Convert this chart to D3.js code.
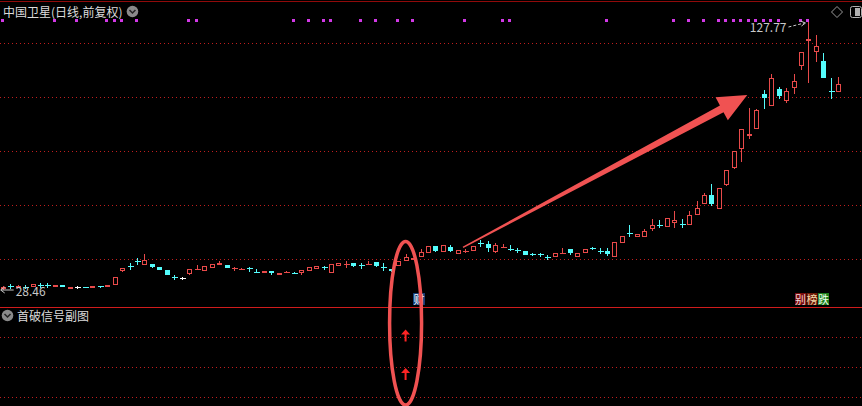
<!DOCTYPE html>
<html>
<head>
<meta charset="utf-8">
<script src="https://cdn.jsdelivr.net/npm/d3@7"></script>
<style>
  html, body { margin: 0; padding: 0; background: #000; }
  svg { display: block; }
  text { font-family: "Noto Sans CJK SC", "Liberation Sans", sans-serif; }
</style>
</head>
<body>
<svg id="chart" width="862" height="406"></svg>
<script>
// daily candles, oldest first
const open = [28.89,30.02,29.44,29.76,29.63,30.39,30.39,29.52,30.37,29.00,29.63,29.65,29.37,29.91,29.52,30.26,35.67,37.43,39.39,37.78,
  38.15,37.15,35.93,33.24,33.07,34.33,36.17,35.67,36.56,37.67,37.78,36.54,36.39,36.58,35.21,34.93,35.56,34.19,35.17,34.83,
  34.70,35.67,36.41,36.95,34.93,37.52,38.13,38.41,37.69,38.02,38.78,37.17,36.30,37.30,39.37,39.89,40.85,42.11,44.81,42.70,
  44.33,41.74,43.05,43.07,45.83,45.44,42.70,44.31,43.83,43.35,42.96,41.87,41.76,40.65,40.63,42.31,43.59,40.85,42.11,43.98,
  43.09,43.07,40.85,46.04,49.54,48.15,48.04,51.11,52.50,51.96,53.44,52.87,52.70,56.41,60.37,63.70,58.41,67.41,73.59,80.74,
  85.56,88.04,101.00,96.67,103.07,98.63,103.44,111.59,120.85,116.78,113.33,102.35,101.96];
const high = [30.00,30.56,30.19,30.37,30.85,31.00,31.00,30.37,30.37,29.52,29.89,29.74,29.89,29.95,30.37,33.44,36.56,38.41,40.26,41.85,
  38.15,37.15,35.93,34.07,33.44,36.19,37.78,37.41,38.04,39.15,37.78,37.04,36.67,37.15,36.30,35.56,35.56,34.81,35.56,35.07,
  35.81,36.93,37.30,37.52,38.15,38.41,39.26,38.41,38.63,39.26,38.78,38.63,36.30,39.26,41.74,40.37,43.70,44.81,44.81,45.19,
  45.07,43.33,43.59,44.81,47.04,46.78,45.81,45.56,45.19,43.96,42.96,42.11,42.33,41.48,42.11,43.96,43.59,42.11,43.59,44.56,
  43.96,44.07,46.30,48.52,52.59,49.15,51.11,54.93,54.44,55.07,57.89,54.81,57.89,61.48,64.56,67.78,66.19,72.85,80.00,88.04,
  95.81,95.56,102.59,108.52,103.81,103.22,108.52,116.56,127.77,122.96,116.19,106.93,107.52];
const low = [28.46,29.26,29.26,29.15,29.52,29.74,29.74,29.52,29.52,29.00,29.37,29.52,29.37,29.80,29.52,30.26,35.30,36.19,38.15,37.78,
  36.67,35.93,33.96,32.48,32.70,33.96,36.17,35.67,36.56,37.67,36.78,36.04,36.19,35.67,35.19,34.93,34.19,34.19,35.17,34.70,
  34.19,35.67,36.41,36.30,34.93,37.52,37.15,36.93,36.67,38.02,36.93,35.93,35.30,37.30,39.37,39.89,40.85,42.11,42.48,42.70,
  42.48,41.74,42.48,43.07,44.93,42.70,42.11,44.31,43.33,42.48,41.48,41.48,41.11,39.89,40.63,42.31,41.48,40.85,42.11,43.59,
  42.33,41.11,40.85,45.81,48.52,48.15,48.04,50.48,51.96,51.96,51.37,51.96,52.70,56.41,60.37,59.63,58.41,67.15,73.22,76.04,
  84.56,88.04,95.44,96.67,99.15,97.89,101.11,110.00,105.30,113.07,107.15,99.74,101.96];
const close = [29.63,30.00,30.07,29.74,30.63,30.37,30.37,30.37,29.52,29.52,29.63,29.63,29.89,29.89,30.37,33.44,36.56,37.41,39.37,39.63,
  37.15,35.93,33.96,33.22,33.07,36.19,36.19,37.41,38.04,38.63,36.78,36.56,36.41,36.56,35.19,35.56,34.70,34.81,35.19,34.81,
  35.81,36.93,37.30,36.93,38.15,38.41,38.15,37.41,37.67,38.04,37.41,37.15,35.67,39.26,40.85,40.37,42.59,44.81,43.07,45.19,
  43.07,43.33,43.07,44.81,45.81,43.96,45.19,44.33,43.81,43.33,41.48,41.85,41.74,40.63,42.11,42.33,42.11,42.11,43.59,43.96,
  43.07,41.85,46.30,48.52,49.52,49.15,50.37,52.48,52.48,55.07,54.44,52.85,56.19,58.78,63.59,60.37,66.19,72.85,80.00,88.04,
  86.30,95.19,99.74,106.93,100.48,102.22,105.93,116.56,121.37,118.89,107.15,102.33,104.70];

// candles carrying a marker dot on the top row
const dotIdx = [0,7,10,14,15,16,18,25,26,39,41,43,44,48,50,53,55,62,67,68,81,90,92,94,96,97,98,99,100,101,102,103,104,107,108];

const priceTicks = [40, 60, 80, 100, 120];
const subTicks = [0, 1, 2];

// sub-chart signal (two arrows on the same day)
const signalIdx = 54;
const signalLevels = [2.25, 0.97];

// hand-drawn annotations, in data units
const trendFrom = [61.7, 44.3];
const trendTo = [99.8, 100.7];
const ringIdx = 54;
const ringTop = 46.5;      // price
const ringBottom = -0.27;  // sub-chart value
const newsIdx = 55;
const tagIdx = 106;
const tags = [
  {t: '别', bg: '#7a0c0c', fg: '#f0d8d8'},
  {t: '榜', bg: '#6e1a08', fg: '#f5d9a8'},
  {t: '跌', bg: '#1b7d1b', fg: '#eaffea'}
];

const title = '中国卫星(日线,前复权)';
const subTitle = '首破信号副图';

const W = 862, H = 406;
const svg = d3.select('#chart');
svg.append('rect').attr('width', W).attr('height', H).attr('fill', '#000');

const x = d3.scaleLinear().domain([0, open.length - 1]).range([2.7, 838.3]);
const y = d3.scaleLinear().domain([40, 120]).range([259, 43]);
const ySub = d3.scaleLinear().domain([0, 3]).range([397, 307]);

const px = v => Math.round(v) + 0.5;

const RED = '#e84a4a', CYAN = '#54fcfc', WHITE = '#ffffff';
const GRID = '#c01e1e';

// frame and grids
svg.append('line').attr('x1', 0).attr('x2', W).attr('y1', 1.5).attr('y2', 1.5)
  .attr('shape-rendering', 'crispEdges')
  .attr('stroke', '#900a0a');

svg.append('g').attr('shape-rendering', 'crispEdges').selectAll('line')
  .data(priceTicks)
  .join('line')
    .attr('x1', 0).attr('x2', W)
    .attr('y1', d => px(y(d))).attr('y2', d => px(y(d)))
    .attr('stroke', GRID)
    .attr('stroke-dasharray', '1,3');

svg.append('g').attr('shape-rendering', 'crispEdges').selectAll('line')
  .data(subTicks)
  .join('line')
    .attr('x1', 0).attr('x2', W)
    .attr('y1', d => px(ySub(d))).attr('y2', d => px(ySub(d)))
    .attr('stroke', GRID)
    .attr('stroke-dasharray', '1,3');

svg.append('line').attr('x1', 0).attr('x2', W)
  .attr('y1', px(ySub(3))).attr('y2', px(ySub(3)))
  .attr('shape-rendering', 'crispEdges')
  .attr('stroke', '#d01c1c');

// candles
const bars = d3.range(open.length).map(i => {
  const diff = close[i] - open[i];
  let color, kind;
  if (diff === 0) { color = WHITE; kind = 'cross'; }
  else if (Math.abs(diff) < 0.05) { color = diff > 0 ? RED : CYAN; kind = 'cross'; }
  else if (diff > 0) { color = RED; kind = 'up'; }
  else { color = CYAN; kind = 'down'; }
  return {i, o: open[i], h: high[i], l: low[i], c: close[i], color, kind};
});

const candles = svg.append('g').attr('shape-rendering', 'crispEdges')
  .selectAll('g')
  .data(bars)
  .join('g');

candles.each(function(d) {
  const g = d3.select(this);
  const cx = px(x(d.i));
  const yh = y(d.h), yl = y(d.l);
  const top = Math.round(y(Math.max(d.o, d.c)));
  const bot = Math.round(y(Math.min(d.o, d.c)));
  if (d.kind === 'up') {
    g.append('line').attr('x1', cx).attr('x2', cx).attr('y1', Math.round(yh)).attr('y2', top)
      .attr('stroke', d.color);
    g.append('line').attr('x1', cx).attr('x2', cx).attr('y1', bot).attr('y2', Math.round(yl))
      .attr('stroke', d.color);
    g.append('rect')
      .attr('x', cx - 2).attr('y', top + 0.5)
      .attr('width', 4).attr('height', Math.max(bot - top - 1, 1))
      .attr('fill', '#000').attr('stroke', d.color);
  } else if (d.kind === 'down') {
    g.append('line').attr('x1', cx).attr('x2', cx).attr('y1', Math.round(yh)).attr('y2', Math.round(yl))
      .attr('stroke', d.color);
    g.append('rect')
      .attr('x', cx - 2.5).attr('y', top)
      .attr('width', 5).attr('height', Math.max(bot - top, 1))
      .attr('fill', d.color);
  } else {
    g.append('line').attr('x1', cx).attr('x2', cx).attr('y1', Math.round(yh)).attr('y2', Math.round(yl) + 1)
      .attr('stroke', d.color);
    g.append('line').attr('x1', cx - 3).attr('x2', cx + 3)
      .attr('y1', px(y(d.c))).attr('y2', px(y(d.c)))
      .attr('stroke', d.color);
  }
});

// marker dots
svg.append('g').selectAll('rect')
  .data(dotIdx)
  .join('rect')
    .attr('x', d => Math.round(x(d)) - 2).attr('y', 19)
    .attr('width', 3).attr('height', 3)
    .attr('fill', '#d238e6');

// low / high labels
const lowI = d3.minIndex(low), highI = d3.maxIndex(high);
const ly = Math.round(y(low[lowI]));
svg.append('line')
  .attr('x1', x(lowI) - 1).attr('x2', x(lowI) + 11).attr('y1', ly).attr('y2', ly)
  .attr('stroke', '#c8c8c8');
svg.append('path')
  .attr('d', `M${x(lowI) - 2},${ly} l4,-3 M${x(lowI) - 2},${ly} l4,3`)
  .attr('stroke', '#c8c8c8').attr('fill', 'none');
svg.append('text')
  .attr('x', x(lowI) + 13).attr('y', ly + 6)
  .attr('font-family', '"Liberation Sans", sans-serif')
  .attr('font-size', 12).attr('fill', '#c8c8c8')
  .text(low[lowI].toFixed(2));

const hx = x(highI), hy = y(high[highI]);
svg.append('text')
  .attr('x', hx - 22).attr('y', hy + 10)
  .attr('text-anchor', 'end')
  .attr('font-family', '"Liberation Sans", sans-serif')
  .attr('font-size', 12).attr('fill', '#c8c8c8')
  .text(high[highI].toFixed(2));
svg.append('line')
  .attr('x1', hx - 20).attr('y1', hy + 5).attr('x2', hx - 4).attr('y2', hy + 1)
  .attr('stroke', '#c8c8c8').attr('stroke-dasharray', '3,2');
svg.append('path')
  .attr('d', `M${hx - 3},${hy + 1} l-5,-2 M${hx - 3},${hy + 1} l-4,3`)
  .attr('stroke', '#c8c8c8').attr('fill', 'none');

// sub-chart signal arrows
svg.append('g').selectAll('path')
  .data(signalLevels)
  .join('path')
    .attr('d', d => {
      const cx = x(signalIdx), t = ySub(d);
      return `M${cx},${t} L${cx + 4.5},${t + 5} L${cx + 1},${t + 5} L${cx + 1},${t + 12} L${cx - 1},${t + 12} L${cx - 1},${t + 5} L${cx - 4.5},${t + 5} Z`;
    })
    .attr('fill', '#ff2424');

// news badge
const nx = Math.round(x(newsIdx));
svg.append('rect').attr('x', nx).attr('y', 293).attr('width', 12).attr('height', 12)
  .attr('fill', '#143c74');
svg.append('text').attr('x', nx + 6).attr('y', 303.5).attr('text-anchor', 'middle')
  .attr('font-size', 11).attr('fill', '#ffffff').text('财');

// tag badges
const tx = Math.round(x(tagIdx)) + 1;
const tagG = svg.append('g').selectAll('g').data(tags).join('g')
  .attr('transform', (d, k) => `translate(${tx + k * 11.5},293)`);
tagG.append('rect').attr('width', 11).attr('height', 12).attr('fill', d => d.bg);
tagG.append('text').attr('x', 5.5).attr('y', 10.5).attr('text-anchor', 'middle')
  .attr('font-size', 11).attr('fill', d => d.fg).text(d => d.t);

// annotations: ellipse and tapered arrow
const ANN = '#f05252';
const ringT = y(ringTop), ringB = ySub(ringBottom);
svg.append('ellipse')
  .attr('cx', x(ringIdx)).attr('cy', (ringT + ringB) / 2)
  .attr('rx', 16).attr('ry', (ringB - ringT) / 2)
  .attr('fill', 'none').attr('stroke', ANN).attr('stroke-width', 3.5);

const ax0 = x(trendFrom[0]), ay0 = y(trendFrom[1]);
const ax1 = x(trendTo[0]), ay1 = y(trendTo[1]);
const len = Math.hypot(ax1 - ax0, ay1 - ay0);
const ux = (ax1 - ax0) / len, uy = (ay1 - ay0) / len;
const nxv = -uy, nyv = ux;
const headL = 29, headW = 13, w0 = 0.8, w1 = 3.8;
const bx = ax1 - ux * headL, by = ay1 - uy * headL;
const pts = [
  [ax0 + nxv * w0, ay0 + nyv * w0],
  [bx + nxv * w1, by + nyv * w1],
  [bx + nxv * headW, by + nyv * headW],
  [ax1, ay1],
  [bx - nxv * headW, by - nyv * headW],
  [bx - nxv * w1, by - nyv * w1],
  [ax0 - nxv * w0, ay0 - nyv * w0]
];
svg.append('path')
  .attr('d', d3.line()(pts) + 'Z')
  .attr('fill', ANN);

// titles and icons
const t1 = svg.append('text').attr('x', 3).attr('y', 16.5)
  .attr('font-size', 12).attr('fill', '#dcdcdc').text(title);
const t1w = t1.node().getComputedTextLength();
function chevronIcon(cx, cy) {
  svg.append('circle').attr('cx', cx).attr('cy', cy).attr('r', 5.8).attr('fill', '#8a8a8a');
  svg.append('path').attr('d', `M${cx - 3},${cy - 1.5} L${cx},${cy + 1.5} L${cx + 3},${cy - 1.5}`)
    .attr('fill', 'none').attr('stroke', '#222').attr('stroke-width', 1.5);
}
chevronIcon(3 + t1w + 10, 11.5);

chevronIcon(7.5, 315.5);
svg.append('text').attr('x', 17).attr('y', 320.5)
  .attr('font-size', 12).attr('fill', '#dcdcdc').text(subTitle);

// top-right icons
svg.append('path').attr('d', 'M837,6.5 L842.5,12 L837,17.5 L831.5,12 Z')
  .attr('fill', 'none').attr('stroke', '#9a9a9a');
svg.append('rect').attr('x', 850.5).attr('y', 6.5).attr('width', 11).attr('height', 11).attr('rx', 2)
  .attr('fill', 'none').attr('stroke', '#b0b0b0');
svg.append('rect').attr('x', 855).attr('y', 8).attr('width', 5).attr('height', 8)
  .attr('fill', '#b0b0b0');
</script>
</body>
</html>
